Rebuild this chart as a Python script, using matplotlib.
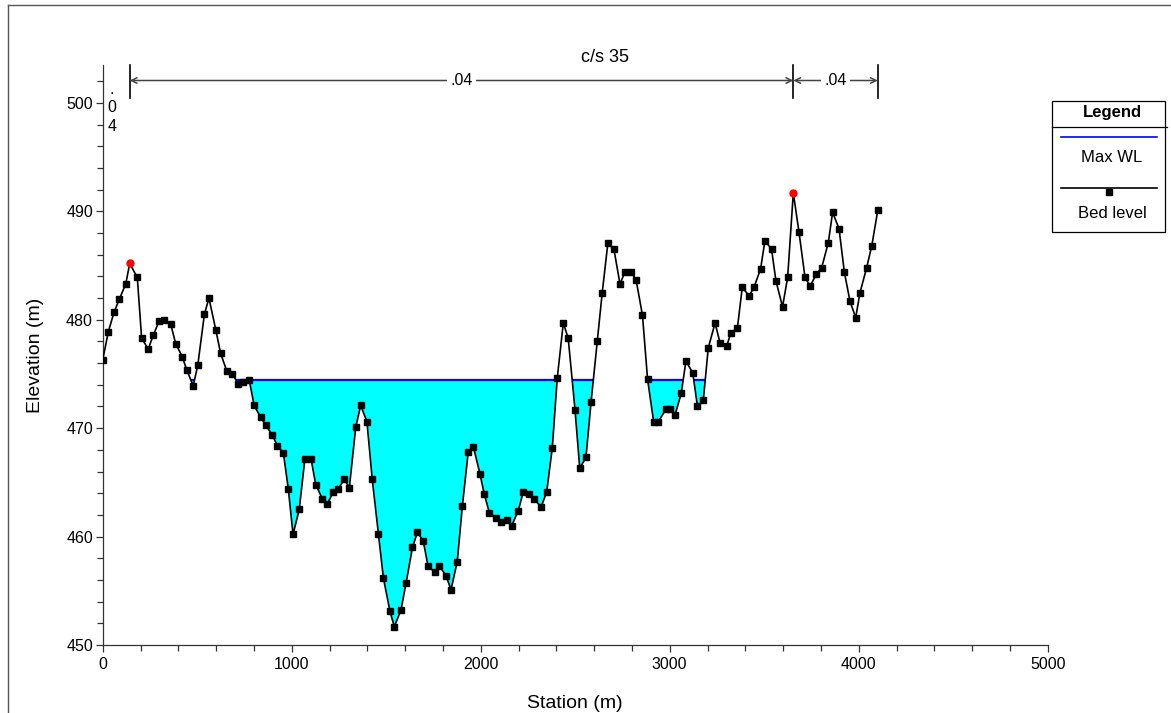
import numpy as np
import matplotlib
matplotlib.use("Agg")
import matplotlib.pyplot as plt
from matplotlib.lines import Line2D
from matplotlib.patches import Rectangle

plt.rcParams['font.family'] = ['Liberation Sans', 'DejaVu Sans']

# ---- data ----
station = [0, 30, 60, 88, 122, 143, 183, 206, 241, 268, 299, 326, 360, 386, 421, 444, 479, 503,
           538, 562, 598, 624, 656, 686, 717, 744, 776, 801, 836, 862, 896, 924, 956, 982, 1007,
           1040, 1070, 1102, 1127, 1162, 1188, 1220, 1247, 1278, 1305, 1339, 1365, 1398, 1426,
           1459, 1485, 1520, 1543, 1578, 1605, 1639, 1665, 1696, 1721, 1758, 1781, 1816, 1843,
           1876, 1903, 1934, 1961, 1996, 2019, 2046, 2081, 2107, 2138, 2164, 2199, 2225, 2256,
           2284, 2319, 2349, 2379, 2405, 2437, 2463, 2499, 2524, 2557, 2584, 2617, 2643, 2673,
           2705, 2737, 2763, 2794, 2822, 2856, 2883, 2915, 2940, 2982, 3001, 3028, 3061, 3086,
           3122, 3147, 3178, 3204, 3240, 3266, 3302, 3324, 3358, 3384, 3420, 3446, 3481, 3504,
           3539, 3562, 3597, 3624, 3654, 3684, 3716, 3743, 3776, 3804, 3839, 3862, 3896, 3924,
           3954, 3984, 4007, 4042, 4069, 4101]
bed_level = [476.3, 478.9, 480.7, 481.9, 483.3, 485.2, 483.9, 478.3, 477.3, 478.6, 479.9, 480.0,
             479.6, 477.8, 476.6, 475.4, 473.9, 475.8, 480.5, 482.0, 479.1, 476.9, 475.3, 475.0,
             474.1, 474.25, 474.4, 472.1, 471.0, 470.3, 469.4, 468.4, 467.7, 464.4, 460.2, 462.5,
             467.2, 467.2, 464.8, 463.5, 463.0, 464.1, 464.4, 465.3, 464.5, 470.1, 472.1, 470.6,
             465.3, 460.2, 456.2, 453.1, 451.7, 453.2, 455.7, 459.0, 460.4, 459.6, 457.3, 456.7,
             457.3, 456.4, 455.1, 457.7, 462.8, 467.8, 468.3, 465.8, 463.9, 462.2, 461.7, 461.3,
             461.5, 461.0, 462.4, 464.1, 463.9, 463.5, 462.7, 464.1, 468.2, 474.6, 479.7, 478.3,
             471.7, 466.3, 467.3, 472.4, 478.0, 482.5, 487.1, 486.5, 483.3, 484.4, 484.4, 483.7,
             480.4, 474.5, 470.6, 470.6, 471.8, 471.8, 471.2, 473.2, 476.2, 475.1, 472.0, 472.6,
             477.4, 479.7, 477.9, 477.6, 478.8, 479.2, 483.0, 482.2, 483.0, 484.7, 487.3, 486.5,
             483.6, 481.2, 483.9, 491.7, 488.1, 483.9, 483.1, 484.2, 484.8, 487.1, 489.9, 488.4,
             484.4, 481.7, 480.2, 482.5, 484.8, 486.8, 490.1]
max_wl = 474.45
bank_stations = [143, 3654]
n_values = [".04", ".04", ".04"]
title = "c/s 35"
x_ticks = [0, 1000, 2000, 3000, 4000, 5000]
y_ticks = [450, 460, 470, 480, 490, 500]

x = np.array(station, dtype=float)
z = np.array(bed_level, dtype=float)

fig = plt.figure(figsize=(11.71, 7.13), dpi=100)
ax = fig.add_axes([102.7 / 1171, 1 - 645 / 713, 945 / 1171, 580 / 713])

# water fill
wl = np.full_like(z, max_wl)
ax.fill_between(x, z, wl, where=z <= wl, interpolate=True, color='#00FFFF', linewidth=0, zorder=1)

# wet intervals for the max WL line
intervals = []
start = x[0] if z[0] < max_wl else None
for i in range(len(x) - 1):
    z0, z1 = z[i], z[i + 1]
    if (z0 - max_wl) * (z1 - max_wl) < 0:
        xc = x[i] + (max_wl - z0) / (z1 - z0) * (x[i + 1] - x[i])
        if z0 >= max_wl:
            start = xc
        else:
            intervals.append((start, xc))
            start = None
if start is not None:
    intervals.append((start, x[-1]))
for a, b in intervals:
    ax.plot([a, b], [max_wl, max_wl], color='#0000FF', lw=1.6, zorder=2, solid_capstyle='butt')

# bed profile
bank_idx = [station.index(s) for s in bank_stations]
mark_idx = [i for i in range(len(x)) if i not in bank_idx]
ax.plot(x, z, color='black', lw=1.2, zorder=3, marker='s', markersize=5,
        markevery=mark_idx, markerfacecolor='black', markeredgecolor='black')
ax.plot(x[bank_idx], z[bank_idx], 'o', color='#FF0000', markersize=6, zorder=4, markeredgewidth=0)

ax.set_xlim(0, 5000)
ax.set_ylim(450, 503.5)
ax.set_xticks(x_ticks)
ax.set_yticks(y_ticks)
ax.set_xticks(np.arange(0, 5001, 200), minor=True)
ax.set_yticks(np.arange(450, 503, 2), minor=True)
ax.tick_params(axis='both', which='major', direction='out', length=5, width=0.9,
               labelsize=11.5, color='#333333')
ax.tick_params(axis='y', which='major', pad=2)
ax.tick_params(axis='both', which='minor', direction='out', length=4, width=0.9, color='#333333')
for s in ['top', 'right']:
    ax.spines[s].set_visible(False)
for s in ['left', 'bottom']:
    ax.spines[s].set_color('#333333')
    ax.spines[s].set_linewidth(0.9)
ax.set_xlabel('Station (m)', fontsize=14, labelpad=17)
ax.set_ylabel('Elevation (m)', fontsize=14, labelpad=16)

# n-value dimension lines
x_ends = [x[0], bank_stations[0], bank_stations[1], x[-1]]
ydim = 502.07
for xe in x_ends[1:]:
    ax.plot([xe, xe], [500.5, 503.5], color='black', lw=1.2, zorder=5, clip_on=False)
arrow_kw = dict(arrowstyle='->', color='#444444', lw=1.1, shrinkA=0, shrinkB=0)
for k in (1, 2):
    a, b = x_ends[k], x_ends[k + 1]
    mid = (a + b) / 2
    ax.text(mid, ydim, n_values[k], ha='center', va='center', fontsize=11.5, zorder=7,
            bbox=dict(boxstyle='square,pad=0.2', fc='white', ec='none'))
    ax.annotate('', xy=(a, ydim), xytext=(mid, ydim), arrowprops=arrow_kw, zorder=6,
                annotation_clip=False)
    ax.annotate('', xy=(b, ydim), xytext=(mid, ydim), arrowprops=arrow_kw, zorder=6,
                annotation_clip=False)
# left (narrow) n-value written vertically
ax.text(48, 500.8, n_values[0][0], ha='center', va='baseline', fontsize=11.5, zorder=7)
ax.text(48, 499.6, n_values[0][1], ha='center', va='center', fontsize=11.5, zorder=7)
ax.text(48, 497.85, n_values[0][2], ha='center', va='center', fontsize=11.5, zorder=7)

fig.text(605 / 1171, 1 - 58 / 713, title, ha='center', va='center', fontsize=13)

# legend box
def fx(px):
    return px / 1171
def fy(py):
    return 1 - py / 713
fig.add_artist(Rectangle((fx(1052), fy(232)), fx(1165) - fx(1052), fy(101) - fy(232),
                         transform=fig.transFigure, fill=False, ec='black', lw=0.9))
fig.add_artist(Line2D([fx(1052), fx(1167)], [fy(126.7), fy(126.7)], transform=fig.transFigure,
                      color='black', lw=0.9))
fig.text(fx(1112), fy(112.5), 'Legend', ha='center', va='center', fontsize=12, fontweight='bold')
fig.add_artist(Line2D([fx(1061), fx(1157)], [fy(136.7), fy(136.7)], transform=fig.transFigure,
                      color='#0000FF', lw=1.2))
fig.text(fx(1112), fy(157.5), 'Max WL', ha='center', va='center', fontsize=12)
fig.add_artist(Line2D([fx(1061), fx(1157)], [fy(187.7), fy(187.7)], transform=fig.transFigure,
                      color='black', lw=1.2))
fig.add_artist(Line2D([fx(1109)], [fy(191.5)], transform=fig.transFigure, marker='s',
                      markersize=5, color='black', lw=0))
fig.text(fx(1112), fy(213.5), 'Bed level', ha='center', va='center', fontsize=12)

# outer frame lines
fig.add_artist(Line2D([fx(8), fx(8)], [0, fy(5)], transform=fig.transFigure, color='#555555', lw=1))
fig.add_artist(Line2D([fx(8), 1], [fy(5), fy(5)], transform=fig.transFigure, color='#555555', lw=1))

fig.savefig('out.png', dpi=100)
